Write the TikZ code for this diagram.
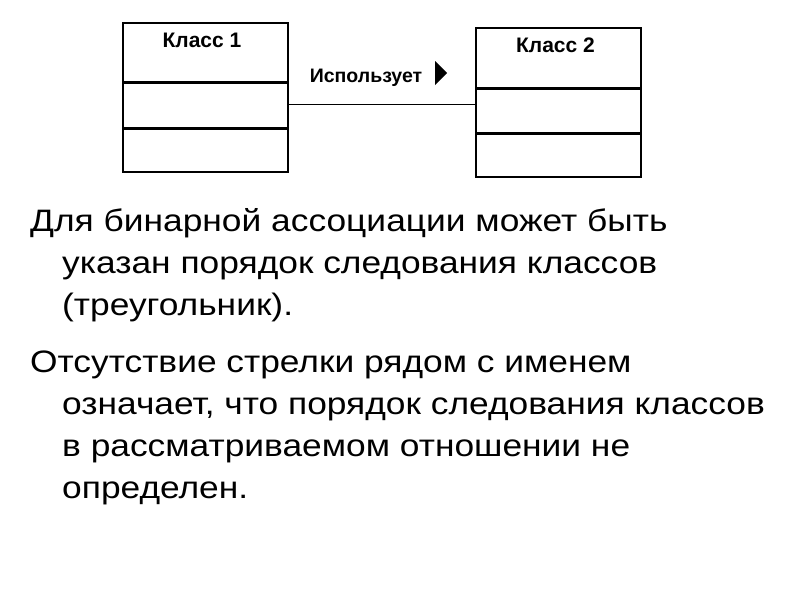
\documentclass[tikz,border=0pt]{standalone}
\usepackage{fontspec}
\setmainfont{Liberation Sans}
\newfontfamily\widefont[FakeStretch=1.14]{Liberation Sans}
\usetikzlibrary{positioning}

\tikzset{
  classbox/.style={draw, line width=1.5pt, minimum width=165pt, inner sep=0pt},
  classname/.style={anchor=base, inner sep=0pt, font=\fontsize{21}{21}\selectfont\bfseries},
  bodytext/.style={anchor=base west, inner sep=0pt, font=\widefont\fontsize{31}{31}\selectfont}
}

\begin{document}
\begin{tikzpicture}[x=1pt,y=-1pt]
\useasboundingbox (0,0) rectangle (800,600);
% first class
\node[classbox, minimum height=59pt, anchor=north west] (k1a) at (122,22) {};
\node[classbox, minimum height=44pt, anchor=north] (k1b) at (k1a.south) {};
\node[classbox, minimum height=43pt, anchor=north] (k1c) at (k1b.south) {};
\node[classname] (k1name) at (202,47) {Класс 1};
% second class
\node[classbox, minimum height=60pt, anchor=north west] (k2a) at (475,27) {};
\node[classbox, minimum height=43pt, anchor=north] (k2b) at (k2a.south) {};
\node[classbox, minimum height=43pt, anchor=north] (k2c) at (k2b.south) {};
\node[classname] (k2name) at (555.5,52) {Класс 2};
% association
\coordinate (a1) at (287,104);
\coordinate (a2) at (475,104);
\draw[line width=0.8pt] (a1) -- (a2);
\node[classname, font=\fontsize{19.5}{19.5}\selectfont\bfseries] (use) at (366,82) {Использует};
\fill (435,61) -- (447,73) -- (435,85) -- cycle;
% text
\node[bodytext] (p1a) at (30,231) {Для бинарной ассоциации может быть};
\node[bodytext] (p1b) at (62,273) {указан порядок следования классов};
\node[bodytext] (p1c) at (62,315) {(треугольник).};
\node[bodytext] (p2a) at (30,372) {Отсутствие стрелки рядом с именем};
\node[bodytext] (p2b) at (62,414) {означает, что порядок следования классов};
\node[bodytext] (p2c) at (62,456) {в рассматриваемом отношении не};
\node[bodytext] (p2d) at (62,498) {определен.};
\end{tikzpicture}
\end{document}
